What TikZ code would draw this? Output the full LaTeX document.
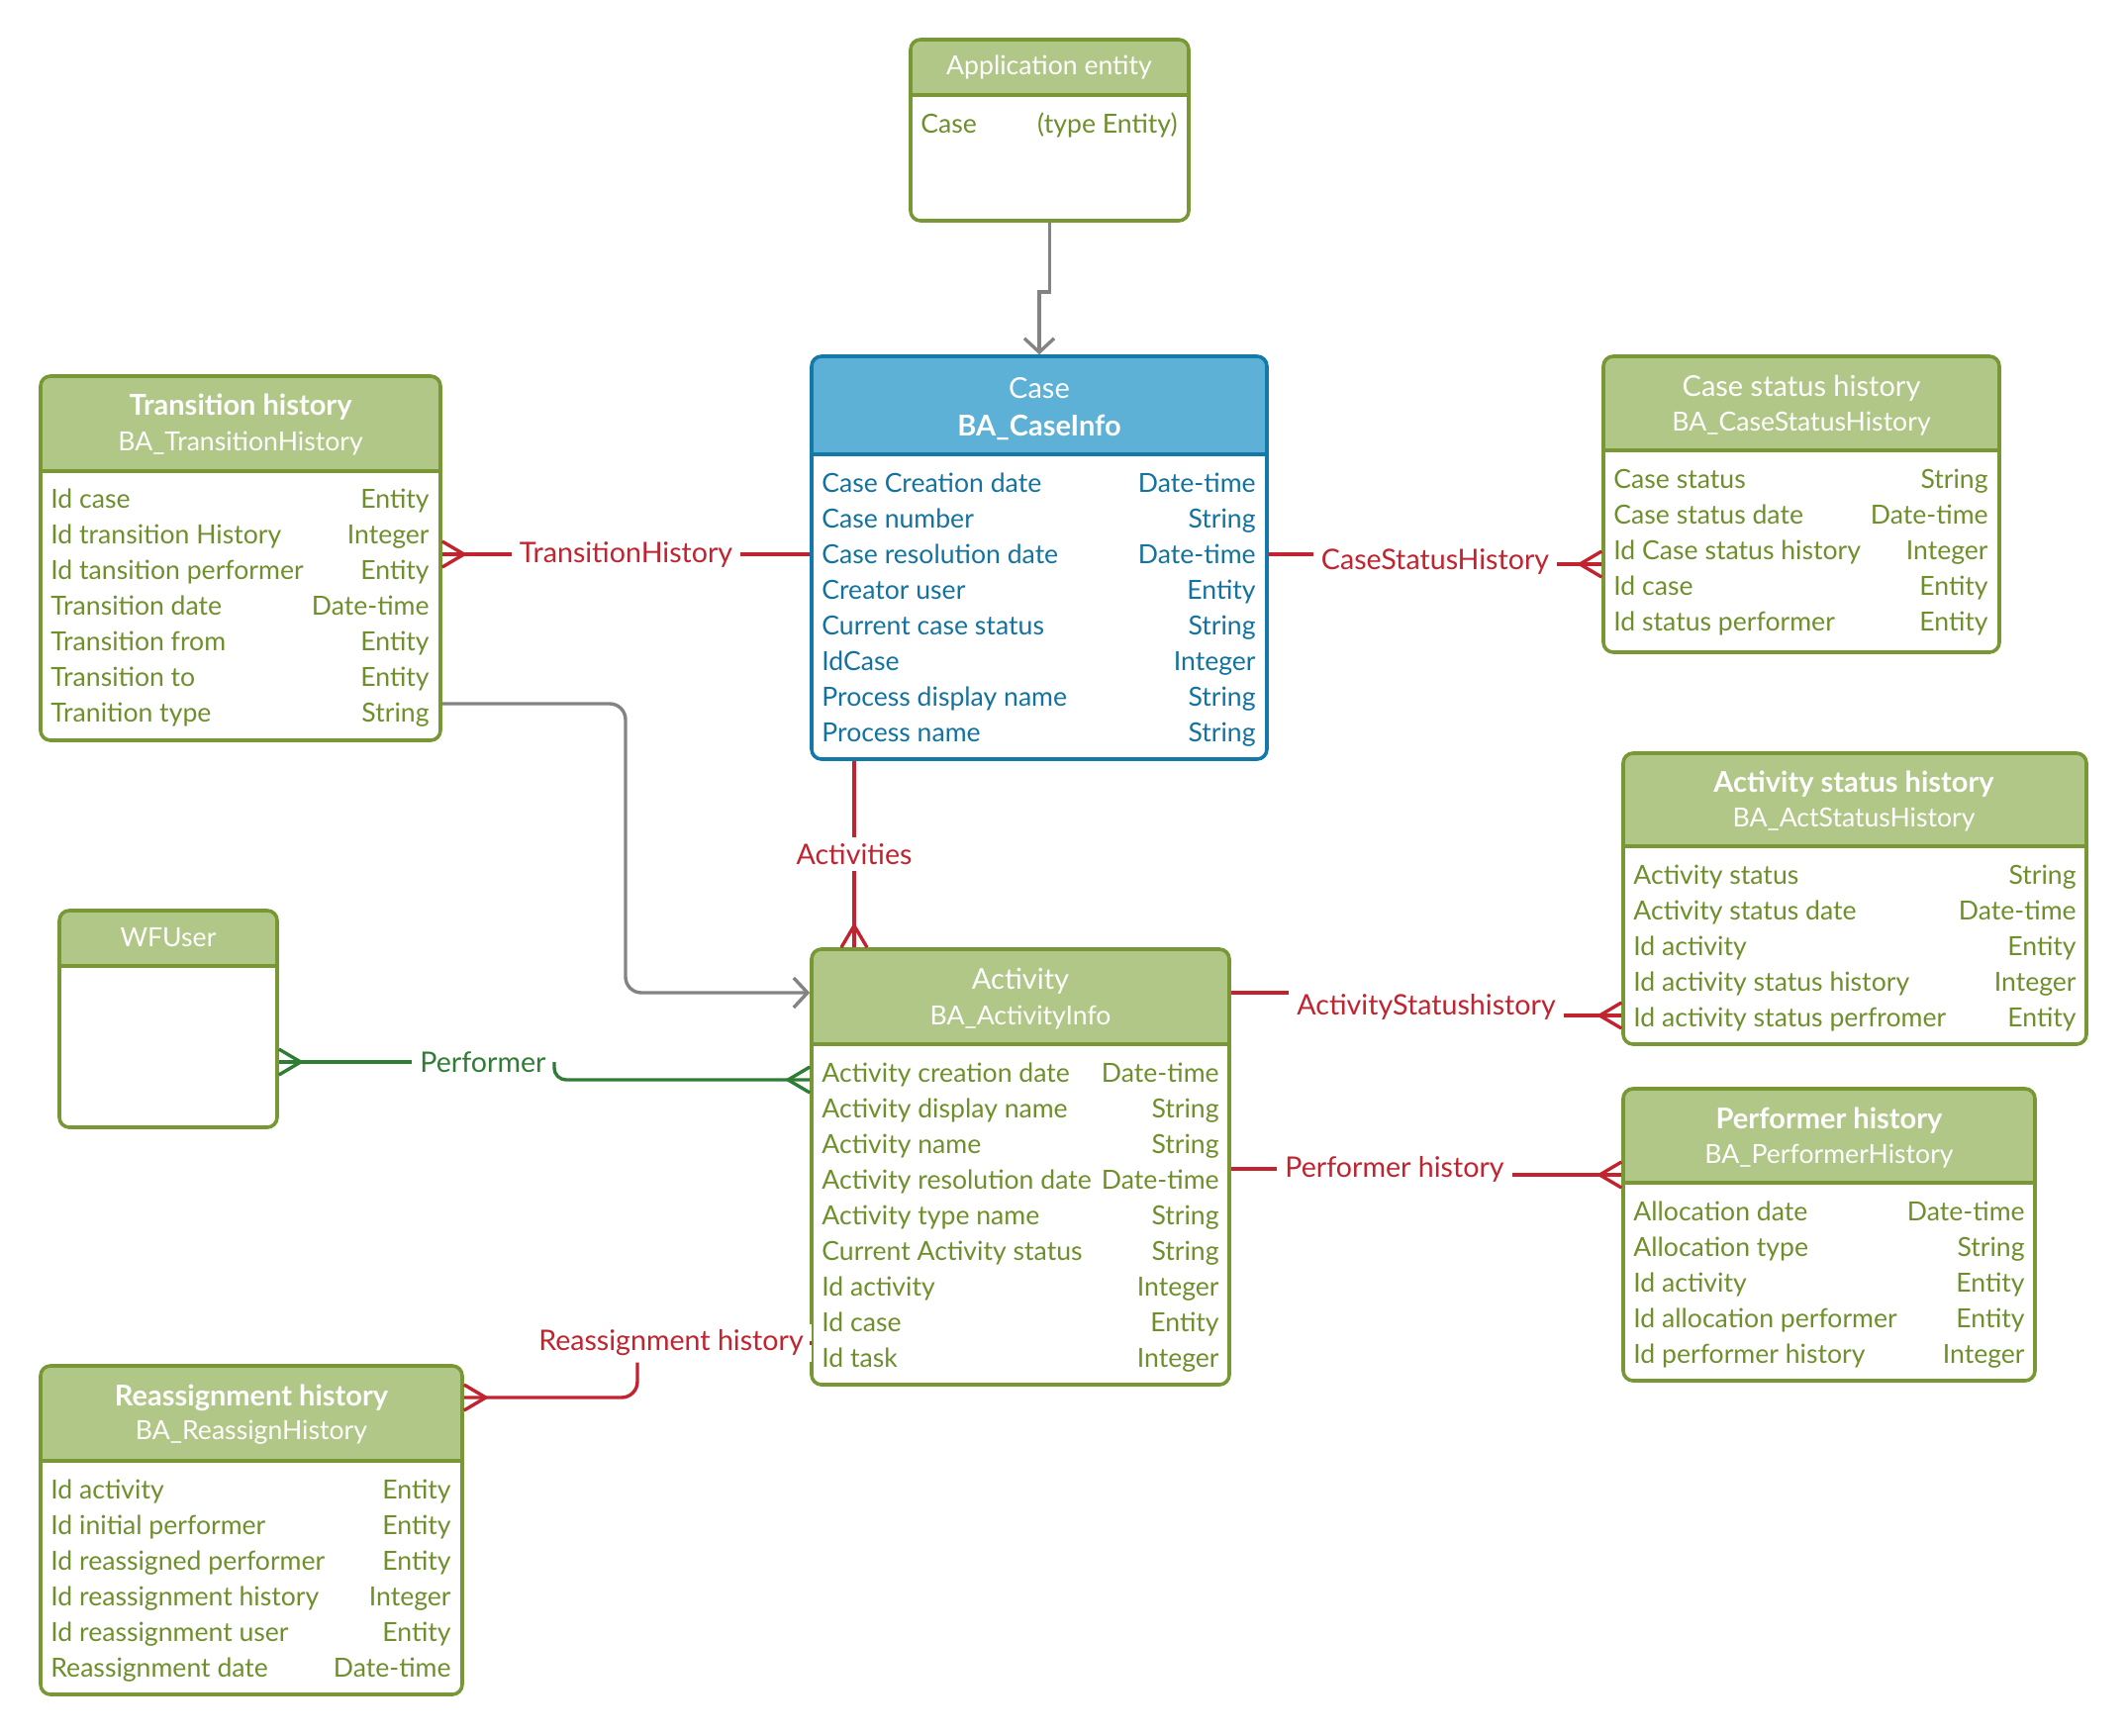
\documentclass[tikz,border=0pt]{standalone}
\usepackage{fontspec}
\setmainfont{Lato}
\usetikzlibrary{arrows.meta,fit}
\definecolor{grnline}{HTML}{779834}
\definecolor{grnhead}{HTML}{B1C787}
\definecolor{grntext}{HTML}{6F8F2C}
\definecolor{bluline}{HTML}{1479A9}
\definecolor{bluhead}{HTML}{5DB0D6}
\definecolor{blutext}{HTML}{13729F}
\definecolor{relred}{HTML}{C1232F}
\definecolor{relgrn}{HTML}{2F7D35}
\definecolor{relgray}{HTML}{838383}
\pgfdeclarearrow{
  name = Crow,
  parameters = {\the\pgfarrowlength,\the\pgfarrowwidth},
  setup code = {
    \pgfarrowssettipend{0pt}
    \pgfarrowssetlineend{0pt}
    \pgfarrowssetbackend{-\pgfarrowlength}
    \pgfarrowssavethe\pgfarrowlength
    \pgfarrowssavethe\pgfarrowwidth
  },
  drawing code = {
    \pgfsetdash{}{0pt}
    \pgfpathmoveto{\pgfqpoint{0pt}{0.5\pgfarrowwidth}}
    \pgfpathlineto{\pgfqpoint{-\pgfarrowlength}{0pt}}
    \pgfpathlineto{\pgfqpoint{0pt}{-0.5\pgfarrowwidth}}
    \pgfusepathqstroke
  },
  defaults = {length=11pt, width=13pt}
}
\begin{document}
\begin{tikzpicture}[x=0.5pt,y=-0.5pt,font=\fontsize{13.3}{15}\selectfont,
	grnbox/.style={draw=grnline,line width=1.8pt,rounded corners=5pt,inner sep=0pt},
	blubox/.style={draw=bluline,line width=1.8pt,rounded corners=5pt,inner sep=0pt},
	headtxt/.style={text=white,font=\fontsize{13.3}{15}\selectfont,inner sep=0pt},
	headtitle/.style={headtxt,font=\fontsize{14.5}{16}\selectfont},
	headbold/.style={headtxt,font=\fontsize{14.5}{16}\bfseries},
	grnrow/.style={text=grntext,anchor=west,inner sep=0pt,text height=9pt,text depth=0pt},
	grntype/.style={grnrow,anchor=east},
	blurow/.style={grnrow,text=blutext},
	blutype/.style={blurow,anchor=east},
	redconn/.style={draw=relred,line width=1.7pt},
	grnconn/.style={draw=relgrn,line width=1.7pt},
	grayconn/.style={draw=relgray,line width=1.7pt,-{Straight Barb[length=7pt,width=15pt]}},
	redlbl/.style={text=relred,fill=white,inner xsep=4pt,inner ysep=3pt,font=\fontsize{14.3}{16}\selectfont},
	grnlbl/.style={redlbl,text=relgrn}]
	\useasboundingbox (0,0) rectangle (2149,1753);
	%Application entity
	\begin{scope}
		\clip[rounded corners=5pt] (920,40) rectangle (1201,223);
		\fill[grnhead] (920,40) rectangle (1201,96);
	\end{scope}
	\node[grnbox,fit={(920,40) (1201,223)}] (ae) {};
	\draw[grnbox] (920,96) -- (1201,96);
	\node[headtxt] at (1060,68) {Application entity};
	\node[grnrow] (ae-1) at (930,125) {Case};
	\node[grntype] at (1190,125) {(type Entity)};
	%Case
	\begin{scope}
		\clip[rounded corners=5pt] (820,360) rectangle (1280,767);
		\fill[bluhead] (820,360) rectangle (1280,459);
	\end{scope}
	\node[blubox,fit={(820,360) (1280,767)}] (case) {};
	\draw[blubox] (820,459) -- (1280,459);
	\node[headtitle] at (1050,392) {Case};
	\node[headbold] at (1050,432) {BA\_CaseInfo};
	\foreach \n/\t [count=\i] in {Case Creation date/Date-time,Case number/String,Case resolution date/Date-time,Creator user/Entity,Current case status/String,IdCase/Integer,Process display name/String,Process name/String}{
		\node[blurow] (case-\i) at (830,{488+36*(\i-1)}) {\n};
		\node[blutype] at (1269,{488+36*(\i-1)}) {\t};
	}
	%Transition history
	\begin{scope}
		\clip[rounded corners=5pt] (41,380) rectangle (445,748);
		\fill[grnhead] (41,380) rectangle (445,476);
	\end{scope}
	\node[grnbox,fit={(41,380) (445,748)}] (th) {};
	\draw[grnbox] (41,476) -- (445,476);
	\node[headbold] at (243,411) {Transition history};
	\node[headtxt] at (243,448) {BA\_TransitionHistory};
	\foreach \n/\t [count=\i] in {Id case/Entity,Id transition History/Integer,Id tansition performer/Entity,Transition date/Date-time,Transition from/Entity,Transition to/Entity,Tranition type/String}{
		\node[grnrow] (th-\i) at (51,{504+36*(\i-1)}) {\n};
		\node[grntype] at (434,{504+36*(\i-1)}) {\t};
	}
	%Case status history
	\begin{scope}
		\clip[rounded corners=5pt] (1620,360) rectangle (2020,659);
		\fill[grnhead] (1620,360) rectangle (2020,455);
	\end{scope}
	\node[grnbox,fit={(1620,360) (2020,659)}] (csh) {};
	\draw[grnbox] (1620,455) -- (2020,455);
	\node[headtitle] at (1820,392) {Case status history};
	\node[headtxt] at (1820,428) {BA\_CaseStatusHistory};
	\foreach \n/\t [count=\i] in {Case status/String,Case status date/Date-time,Id Case status history/Integer,Id case/Entity,Id status performer/Entity}{
		\node[grnrow] (csh-\i) at (1630,{484+36*(\i-1)}) {\n};
		\node[grntype] at (2009,{484+36*(\i-1)}) {\t};
	}
	%Activity status history
	\begin{scope}
		\clip[rounded corners=5pt] (1640,761) rectangle (2108,1055);
		\fill[grnhead] (1640,761) rectangle (2108,855);
	\end{scope}
	\node[grnbox,fit={(1640,761) (2108,1055)}] (ash) {};
	\draw[grnbox] (1640,855) -- (2108,855);
	\node[headbold] at (1873,792) {Activity status history};
	\node[headtxt] at (1873,828) {BA\_ActStatusHistory};
	\foreach \n/\t [count=\i] in {Activity status/String,Activity status date/Date-time,Id activity/Entity,Id activity status history/Integer,Id activity status perfromer/Entity}{
		\node[grnrow] (ash-\i) at (1650,{884+36*(\i-1)}) {\n};
		\node[grntype] at (2098,{884+36*(\i-1)}) {\t};
	}
	%Activity
	\begin{scope}
		\clip[rounded corners=5pt] (820,959) rectangle (1242,1399);
		\fill[grnhead] (820,959) rectangle (1242,1055);
	\end{scope}
	\node[grnbox,fit={(820,959) (1242,1399)}] (act) {};
	\draw[grnbox] (820,1055) -- (1242,1055);
	\node[headtitle] at (1031,991) {Activity};
	\node[headtxt] at (1031,1028) {BA\_ActivityInfo};
	\foreach \n/\t [count=\i] in {Activity creation date/Date-time,Activity display name/String,Activity name/String,Activity resolution date/Date-time,Activity type name/String,Current Activity status/String,Id activity/Integer,Id case/Entity,Id task/Integer}{
		\node[grnrow] (act-\i) at (830,{1084+36*(\i-1)}) {\n};
		\node[grntype] at (1232,{1084+36*(\i-1)}) {\t};
	}
	%WFUser
	\begin{scope}
		\clip[rounded corners=5pt] (60,920) rectangle (280,1139);
		\fill[grnhead] (60,920) rectangle (280,976);
	\end{scope}
	\node[grnbox,fit={(60,920) (280,1139)}] (wf) {};
	\draw[grnbox] (60,976) -- (280,976);
	\node[headtxt] at (170,947) {WFUser};
	%Performer history
	\begin{scope}
		\clip[rounded corners=5pt] (1640,1100) rectangle (2056,1395);
		\fill[grnhead] (1640,1100) rectangle (2056,1195);
	\end{scope}
	\node[grnbox,fit={(1640,1100) (2056,1395)}] (ph) {};
	\draw[grnbox] (1640,1195) -- (2056,1195);
	\node[headbold] at (1848,1132) {Performer history};
	\node[headtxt] at (1848,1168) {BA\_PerformerHistory};
	\foreach \n/\t [count=\i] in {Allocation date/Date-time,Allocation type/String,Id activity/Entity,Id allocation performer/Entity,Id performer history/Integer}{
		\node[grnrow] (ph-\i) at (1650,{1224+36*(\i-1)}) {\n};
		\node[grntype] at (2046,{1224+36*(\i-1)}) {\t};
	}
	%Reassignment history
	\begin{scope}
		\clip[rounded corners=5pt] (41,1380) rectangle (467,1712);
		\fill[grnhead] (41,1380) rectangle (467,1476);
	\end{scope}
	\node[grnbox,fit={(41,1380) (467,1712)}] (rh) {};
	\draw[grnbox] (41,1476) -- (467,1476);
	\node[headbold] at (254,1412) {Reassignment history};
	\node[headtxt] at (254,1447) {BA\_ReassignHistory};
	\foreach \n/\t [count=\i] in {Id activity/Entity,Id initial performer/Entity,Id reassigned performer/Entity,Id reassignment history/Integer,Id reassignment user/Entity,Reassignment date/Date-time}{
		\node[grnrow] (rh-\i) at (51,{1505+36*(\i-1)}) {\n};
		\node[grntype] at (456,{1505+36*(\i-1)}) {\t};
	}
	%关系
	\draw[grayconn] (ae.south) -- ++(0,70) -| (case.north);
	\draw[redconn,-Crow] (case.west |- case-3) -- (th.east |- case-3) node[redlbl,pos=0.5] {TransitionHistory};
	\node[redlbl] (csl) at (1450,568) {CaseStatusHistory};
	\coordinate (csh-in) at (1600,570);
	\draw[redconn] (case.east |- case-3) -- (csl.west |- case-3);
	\draw[redconn,-Crow] (csl.east |- csh-in) -- (csh.west |- csh-in);
	\node[redlbl] (acl) at (863,863) {Activities};
	\draw[redconn] (acl.north |- case.south) -- (acl.north);
	\draw[redconn,-Crow] (acl.south) -- (acl.south |- act.north);
	\coordinate (th-out) at (500,711);
	\coordinate (tj) at (632,1003);
	\draw[grayconn,rounded corners=8pt] (th.east |- th-out) -| (tj) -- (tj -| act.west);
	\node[redlbl] (asl) at (1441,1017) {ActivityStatushistory};
	\coordinate (ash-in) at (1600,1026);
	\draw[redconn] (act.east |- tj) -- (asl.west |- tj);
	\draw[redconn,-Crow] (asl.east |- ash-in) -- (ash.west |- ash-in);
	\node[redlbl] (phl) at (1409,1181) {Performer history};
	\coordinate (ph-in) at (1600,1187);
	\draw[redconn] (act.east |- phl) -- (phl.west);
	\draw[redconn,-Crow] (phl.east |- ph-in) -- (ph.west |- ph-in);
	\node[grnlbl] (pfl) at (488,1073) {Performer};
	\coordinate (pf-in) at (700,1091);
	\draw[grnconn,-Crow] (pfl.west) -- (wf.east |- pfl);
	\draw[grnconn,-Crow,rounded corners=6pt] (pfl.east) |- (pf-in) -- (pf-in -| act.west);
	\node[redlbl] (rsl) at (678,1357) {Reassignment history};
	\coordinate (rj) at (644,1412);
	\draw[redconn] (rsl.east) -- (act.west |- rsl);
	\draw[redconn,-Crow,rounded corners=8pt] (rsl.south -| rj) -- (rj) -- (rj -| rh.east);
\end{tikzpicture}
\end{document}
